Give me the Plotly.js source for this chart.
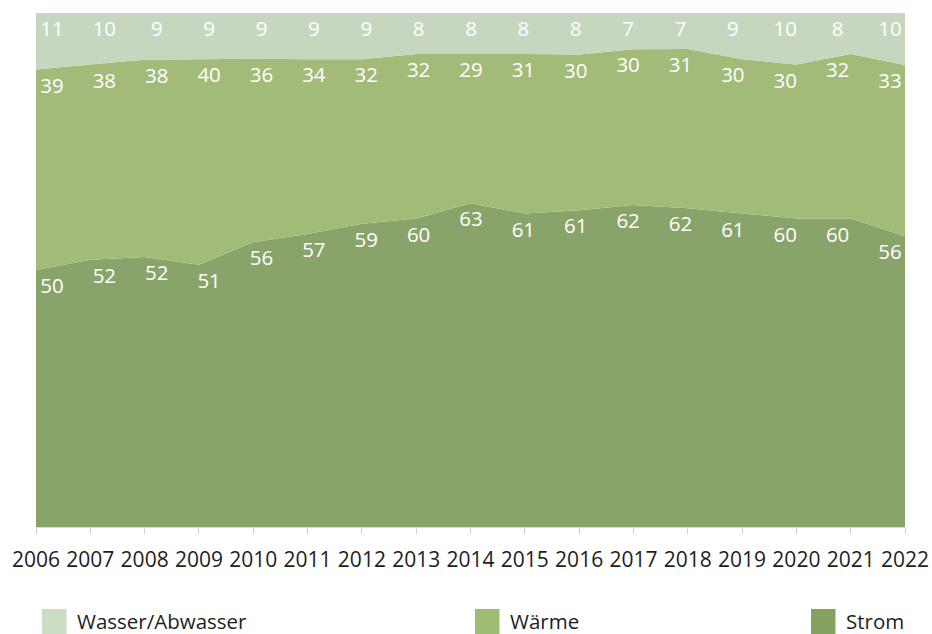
<!DOCTYPE html>
<html>
<head>
<meta charset="utf-8">
<script src="https://cdn.plot.ly/plotly-3.0.1.min.js"></script>
<style>
  html, body { margin: 0; padding: 0; background: #ffffff; }
  #chart { width: 932px; height: 634px; }
</style>
</head>
<body>
<div id="chart"></div>
<script>
// Energy cost shares by year (percent)
const years  = [2006, 2007, 2008, 2009, 2010, 2011, 2012, 2013, 2014, 2015, 2016, 2017, 2018, 2019, 2020, 2021, 2022];
const strom  = [50, 52, 52, 51, 56, 57, 59, 60, 63, 61, 61, 62, 62, 61, 60, 60, 56];
const waerme = [39, 38, 38, 40, 36, 34, 32, 32, 29, 31, 30, 30, 31, 30, 30, 32, 33];
const wasser = [11, 10, 9, 9, 9, 9, 9, 8, 8, 8, 8, 7, 7, 9, 10, 8, 10];
const seriesNames = ['Strom', 'Wärme', 'Wasser/Abwasser'];
const colors = ['#89a46a', '#a3bb78', '#c7d7bf'];
const swatchColors = ['#84a160', '#9fbd72', '#cadcc1'];

const FONT = 'Open Sans, Noto Sans, sans-serif';
const W = 932, H = 634;
const M = { l: 36, r: 27, t: 13, b: 107 };
const PW = W - M.l - M.r, PH = H - M.t - M.b;

// cumulative (normalised to 100) top edge of each band
const series = [strom, waerme, wasser];
const tops = series.map(() => []);
years.forEach((_, i) => {
  const total = strom[i] + waerme[i] + wasser[i];
  let acc = 0;
  series.forEach((s, k) => { acc += s[i] / total * 100; tops[k].push(acc); });
});

const traces = series.map((s, k) => ({
  type: 'scatter', mode: 'none', x: years, y: s,
  stackgroup: 'energie', groupnorm: 'percent',
  fillcolor: colors[k], line: { width: 0 },
  name: seriesNames[k], hoverinfo: 'skip', showlegend: false
}));

// value labels, sitting just below each band's upper edge
const idx = years.map((_, i) => i);
const LABEL_DROP = 3.5;
series.forEach((s, k) => {
  traces.push({
    type: 'scatter', mode: 'text', xaxis: 'x2', yaxis: 'y',
    x: idx, y: tops[k].map(v => v - LABEL_DROP),
    text: s.map(String), textposition: 'middle center',
    textfont: { family: FONT, size: 20.5, color: '#ffffff' },
    hoverinfo: 'skip', showlegend: false, cliponaxis: false
  });
});

// legend drawn as swatches plus labels below the axis
const px2x = p => (p - M.l) / PW;
const py2y = p => (M.t + PH - p) / PH;
const legendItems = [
  { name: 'Wasser/Abwasser', color: swatchColors[2], sx: 42 },
  { name: 'Wärme', color: swatchColors[1], sx: 475 },
  { name: 'Strom', color: swatchColors[0], sx: 811 }
];
const shapes = legendItems.map(it => ({
  type: 'rect', xref: 'paper', yref: 'paper',
  x0: px2x(it.sx), x1: px2x(it.sx + 24.5), y0: py2y(609), y1: py2y(645),
  fillcolor: it.color, line: { width: 0 }
}));
const annotations = legendItems.map(it => ({
  xref: 'paper', yref: 'paper', x: px2x(it.sx + 33), y: py2y(621),
  xanchor: 'left', yanchor: 'middle', showarrow: false,
  text: it.name, font: { family: FONT, size: 20.5, color: '#1e1e1e' }
}));

const layout = {
  width: W, height: H,
  margin: M,
  paper_bgcolor: '#ffffff', plot_bgcolor: '#ffffff',
  showlegend: false,
  xaxis: {
    range: [years[0], years[years.length - 1]],
    tickvals: years, ticktext: years.map(String),
    showgrid: false, zeroline: false,
    showline: true, linecolor: '#d9d9d9', linewidth: 1,
    ticks: 'outside', ticklen: 6, tickcolor: '#d0d0d0', tickwidth: 1,
    ticklabelstandoff: 8,
    tickfont: { family: FONT, size: 21, color: '#1e1e1e' },
    fixedrange: true
  },
  xaxis2: {
    overlaying: 'x', visible: false,
    range: [-16 / 52.375, 16 + 15 / 52.375], fixedrange: true
  },
  yaxis: { range: [0, 100], visible: false, fixedrange: true },
  shapes: shapes,
  annotations: annotations
};

Plotly.newPlot('chart', traces, layout, { displayModeBar: false, staticPlot: true });
</script>
</body>
</html>
